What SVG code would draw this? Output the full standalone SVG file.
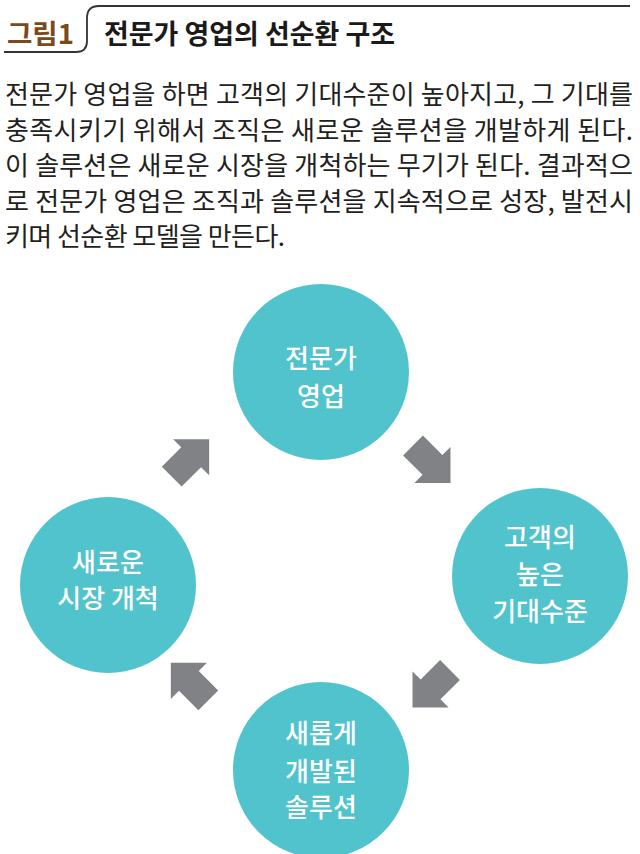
<svg xmlns="http://www.w3.org/2000/svg" width="640" height="854" viewBox="0 0 640 854">
<defs>
<style>
.title{font-family:"Noto Sans CJK KR","Noto Sans",sans-serif;font-weight:700;font-size:27px;}
.body{font-family:"Noto Sans CJK KR","Noto Sans",sans-serif;font-size:26px;fill:#231f20;}
.ct{font-family:"Noto Sans CJK KR","Noto Sans",sans-serif;font-weight:500;font-size:26px;fill:#ffffff;text-anchor:middle;}
.circ{fill:#51c3cc;}
.arr{fill:#808285;}
</style>
<polygon id="arrow" points="0,-14 27.5,-14 27.5,-25.5 53,0 27.5,25.5 27.5,14 0,14"/>
</defs>
<rect width="640" height="854" fill="#ffffff"/>
<g id="header">
<path d="M4,52 H76 Q87,52 87,41 V18 Q87,6 99,6 H630" fill="none" stroke="#333333" stroke-width="1.8"/>
<text class="title" x="7" y="44" fill="#7b4a1c" font-size="28" textLength="67" lengthAdjust="spacingAndGlyphs">그림1</text>
<text class="title" x="104" y="44" fill="#1a1a1a" textLength="291" lengthAdjust="spacingAndGlyphs">전문가 영업의 선순환 구조</text>
</g>
<g id="body-text">
<text class="body" x="5" y="104" textLength="628" lengthAdjust="spacing">전문가 영업을 하면 고객의 기대수준이 높아지고, 그 기대를</text>
<text class="body" x="5" y="139.5" textLength="628" lengthAdjust="spacing">충족시키기 위해서 조직은 새로운 솔루션을 개발하게 된다.</text>
<text class="body" x="5" y="175" textLength="628" lengthAdjust="spacing">이 솔루션은 새로운 시장을 개척하는 무기가 된다. 결과적으</text>
<text class="body" x="5" y="210.5" textLength="628" lengthAdjust="spacing">로 전문가 영업은 조직과 솔루션을 지속적으로 성장, 발전시</text>
<text class="body" x="5" y="246" textLength="280" lengthAdjust="spacing">키며 선순환 모델을 만든다.</text>
</g>
<g id="connectors">
<use href="#arrow" class="arr" transform="translate(413,445.5) rotate(45)"/>
<use href="#arrow" class="arr" transform="translate(450,670) rotate(135)"/>
<use href="#arrow" class="arr" transform="translate(208.3,700.3) rotate(-135)"/>
<use href="#arrow" class="arr" transform="translate(171.7,476.7) rotate(-45)"/>
</g>
<g id="node-expert-sales">
<circle class="circ" cx="321" cy="372" r="88"/>
<text class="ct" x="321" y="368">전문가</text>
<text class="ct" x="321" y="406">영업</text>
</g>
<g id="node-customer-expectation">
<circle class="circ" cx="540" cy="576" r="88"/>
<text class="ct" x="540" y="547">고객의</text>
<text class="ct" x="540" y="584">높은</text>
<text class="ct" x="540" y="621">기대수준</text>
</g>
<g id="node-new-solution">
<circle class="circ" cx="321" cy="770" r="88"/>
<text class="ct" x="321" y="743">새롭게</text>
<text class="ct" x="321" y="781">개발된</text>
<text class="ct" x="321" y="817">솔루션</text>
</g>
<g id="node-new-market">
<circle class="circ" cx="108" cy="585" r="88"/>
<text class="ct" x="108" y="572">새로운</text>
<text class="ct" x="108" y="608">시장 개척</text>
</g>
</svg>
